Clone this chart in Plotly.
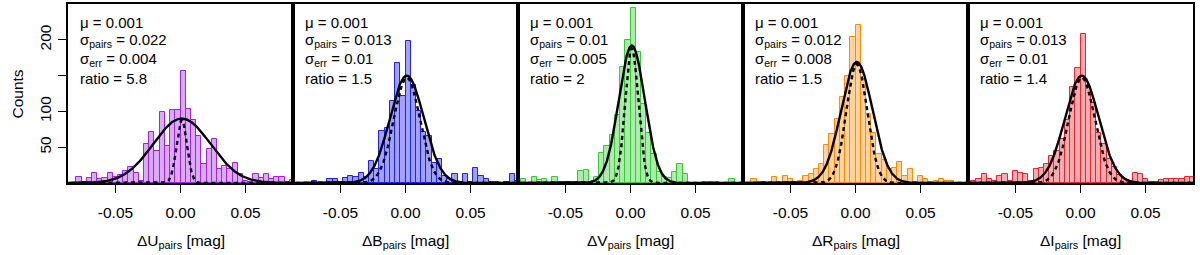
import numpy as np
import plotly.graph_objects as go
from plotly.subplots import make_subplots

# ---------------- data ----------------
BIN_WIDTH = 0.004
bin_centers = [round(-0.082 + BIN_WIDTH * i, 4) for i in range(43)]

counts_U = [0, 9, 2, 7, 14, 6, 7, 14, 9, 11, 17, 23, 14, 3, 55, 71, 45, 99, 52, 102, 102,
            156, 104, 88, 66, 27, 48, 62, 19, 24, 20, 28, 12, 3, 2, 13, 7, 13, 6, 9, 9, 1, 4]
counts_B = [0, 0, 0, 3, 0, 0, 6, 6, 2, 7, 10, 9, 14, 8, 31, 20, 72, 77, 114, 168, 122,
            198, 137, 101, 71, 65, 28, 34, 10, 5, 13, 1, 12, 1, 21, 10, 6, 2, 2, 0, 2, 12, 3]
counts_V = [5, 0, 9, 4, 5, 0, 8, 0, 1, 1, 0, 17, 18, 1, 8, 42, 51, 67, 95, 162, 200,
            244, 183, 111, 70, 41, 15, 8, 7, 15, 27, 12, 0, 0, 0, 2, 2, 2, 0, 0, 5, 0, 0]
counts_R = [0, 6, 2, 1, 0, 8, 0, 10, 6, 2, 3, 10, 13, 19, 26, 53, 68, 90, 120, 150, 204,
            221, 145, 97, 70, 40, 32, 20, 21, 29, 10, 19, 1, 10, 5, 2, 3, 6, 3, 3, 0, 0, 0]
counts_I = [3, 6, 12, 6, 3, 10, 12, 3, 17, 14, 12, 3, 20, 21, 26, 38, 45, 62, 88, 134, 160,
            208, 134, 112, 70, 55, 34, 22, 11, 6, 3, 14, 12, 5, 1, 1, 4, 5, 6, 6, 6, 9, 9]

bands = ["U", "B", "V", "R", "I"]
mu = [0.001, 0.001, 0.001, 0.001, 0.001]
sigma_pairs = [0.022, 0.013, 0.01, 0.012, 0.013]
sigma_err = [0.004, 0.01, 0.005, 0.008, 0.01]
ratio = [5.8, 1.5, 2, 1.5, 1.4]
amp_pairs = [90, 150, 192, 169, 150]
amp_err = [88, 147, 188, 166, 147]

x_tickvals = [-0.05, 0.0, 0.05]
x_ticktext = ["-0.05", "0.00", "0.05"]
y_tickvals = [50, 100, 150, 200]
y_ticktext = ["50", "100", "", "200"]

line_colors = ["#a020f0", "#1f1fff", "#33cc33", "#ff8c00", "#e8262e"]
fill_colors = ["rgba(160,32,240,0.38)", "rgba(31,31,255,0.42)", "rgba(51,204,51,0.40)",
               "rgba(255,140,0,0.38)", "rgba(232,38,46,0.38)"]

all_counts = [counts_U, counts_B, counts_V, counts_R, counts_I]

FONT = "Liberation Sans, Arial, Helvetica, sans-serif"
FS_AXIS = 15.5
FS_TEXT = 15

# plot-area geometry in pixels (used only to place text)
TOP, BOTTOM = 4.0, 183.0
HEIGHT = BOTTOM - TOP


def ypaper(ypix):
    return (BOTTOM - ypix) / HEIGHT


# ---------------- figure ----------------
fig = make_subplots(rows=1, cols=5, horizontal_spacing=0, shared_yaxes=False)

xs = np.linspace(-0.09, 0.09, 721)
for i in range(5):
    col = i + 1
    fig.add_trace(go.Bar(x=bin_centers, y=all_counts[i], width=BIN_WIDTH,
                         marker=dict(color=fill_colors[i],
                                     line=dict(color=line_colors[i], width=1)),
                         showlegend=False, hoverinfo="skip"), row=1, col=col)
    g_pairs = amp_pairs[i] * np.exp(-0.5 * ((xs - mu[i]) / sigma_pairs[i]) ** 2)
    g_err = amp_err[i] * np.exp(-0.5 * ((xs - mu[i]) / sigma_err[i]) ** 2)
    fig.add_trace(go.Scatter(x=xs, y=g_pairs, mode="lines",
                             line=dict(color="black", width=2.4),
                             showlegend=False, hoverinfo="skip"), row=1, col=col)
    fig.add_trace(go.Scatter(x=xs, y=g_err, mode="lines",
                             line=dict(color="black", width=2.4, dash="4px,3.5px"),
                             showlegend=False, hoverinfo="skip"), row=1, col=col)

    fig.update_xaxes(range=[-0.0865, 0.0865], tickvals=x_tickvals, ticktext=x_ticktext,
                     ticks="outside", ticklen=8, tickwidth=1, tickcolor="black",
                     ticklabelstandoff=7,
                     showline=True, mirror=True, linecolor="black", linewidth=1.5,
                     showgrid=False, zeroline=False, automargin=False,
                     tickfont=dict(family=FONT, size=FS_AXIS, color="black"),
                     row=1, col=col)
    yargs = dict(range=[0, 250], showline=True, mirror=True, linecolor="black",
                 linewidth=1.5, showgrid=False, zeroline=False, automargin=False)
    if i == 0:
        fig.update_yaxes(tickvals=y_tickvals, ticktext=y_ticktext, ticks="outside",
                         ticklen=8, tickwidth=1, tickcolor="black", tickangle=-90,
                         ticklabelstandoff=1,
                         tickfont=dict(family=FONT, size=FS_AXIS, color="black"),
                         row=1, col=col, **yargs)
    else:
        fig.update_yaxes(showticklabels=False, ticks="", row=1, col=col, **yargs)

    xref = "x domain" if i == 0 else f"x{col} domain"
    yref = "y domain" if i == 0 else f"y{col} domain"
    lines = ["μ = " + str(mu[i]),
             "σ<sub>pairs</sub> = " + str(sigma_pairs[i]),
             "σ<sub>err</sub> = " + str(sigma_err[i]),
             "ratio = " + str(ratio[i])]
    ypix = [22.5, 40.0, 59.5, 78.5]
    for t, yp in zip(lines, ypix):
        fig.add_annotation(text=t, xref=xref, yref=yref,
                           x=10.0 / 225.0, y=ypaper(yp),
                           xanchor="left", yanchor="middle", showarrow=False,
                           font=dict(family=FONT, size=FS_TEXT, color="black"))
    # x-axis title
    fig.add_annotation(text="Δ" + bands[i] + "<sub>pairs</sub> [mag]",
                       xref=xref, yref=yref, x=0.5, y=ypaper(241),
                       xanchor="center", yanchor="middle", showarrow=False,
                       font=dict(family=FONT, size=FS_AXIS, color="black"))

# y-axis title
fig.add_annotation(text="Counts", xref="paper", yref="paper",
                   x=(17.0 - 68.0) / 1125.0, y=ypaper(93.5), textangle=-90,
                   xanchor="center", yanchor="middle", showarrow=False,
                   font=dict(family=FONT, size=FS_AXIS, color="black"))

fig.update_layout(width=1200, height=255, margin=dict(l=68, r=7, t=4, b=72),
                  plot_bgcolor="white", paper_bgcolor="white", bargap=0,
                  font=dict(family=FONT, size=FS_AXIS, color="black"))

fig.write_html("out.html", config={"displayModeBar": False},
               post_script="document.body.style.margin='0px';"
                           "document.body.style.padding='0px';")
